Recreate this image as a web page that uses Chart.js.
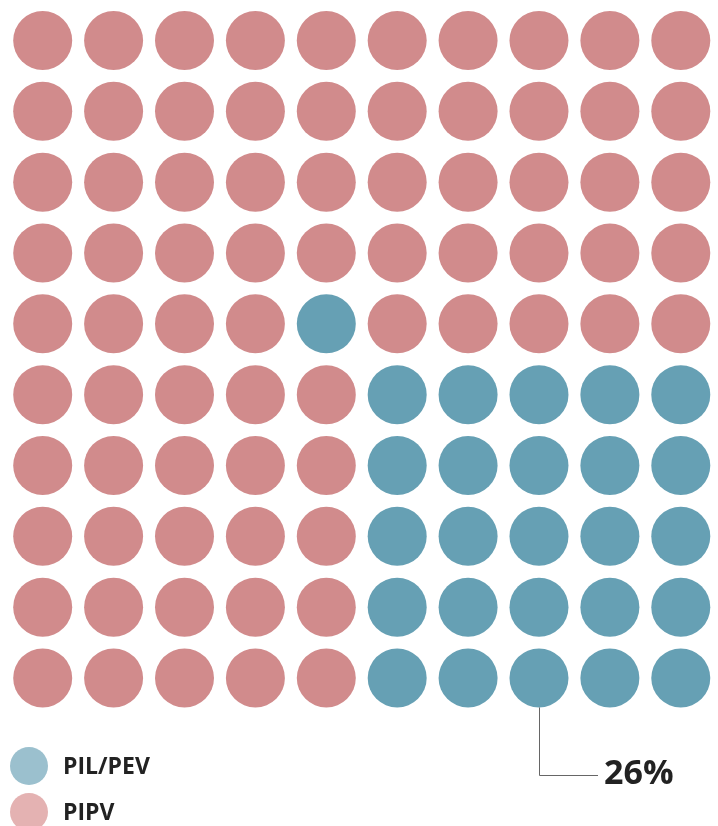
<!DOCTYPE html>
<html>
<head>
<meta charset="utf-8">
<script src="https://cdn.jsdelivr.net/npm/chart.js@4/dist/chart.umd.min.js"></script>
<style>
  html, body { margin: 0; padding: 0; background: #fff; }
  #wrap { width: 718px; height: 826px; }
</style>
</head>
<body>
<div id="wrap"><canvas id="waffle" width="718" height="826"></canvas></div>
<script>
// categories and their share of the 100 dots
var categories = ['PIL/PEV', 'PIPV'];
var shares = [26, 74];
// grid: b = PIL/PEV, p = PIPV (row 1 at top)
var gridRows = [
  'pppppppppp',
  'pppppppppp',
  'pppppppppp',
  'pppppppppp',
  'ppppbppppp',
  'pppppbbbbb',
  'pppppbbbbb',
  'pppppbbbbb',
  'pppppbbbbb',
  'pppppbbbbb'
];
// dot the callout points at: [column, row]
var calloutDot = [8, 10];

var dotColors = ['#66a0b4', '#d18b8c'];
var legendColors = ['#9bc0ce', '#e4b2b2'];

var bluePoints = [];
var pinkPoints = [];
gridRows.forEach(function(row, r) {
  row.split('').forEach(function(ch, c) {
    var pt = { x: c + 1, y: r + 1 };
    if (ch === 'b') bluePoints.push(pt); else pinkPoints.push(pt);
  });
});

var R = 29.5;

var extras = {
  id: 'extras',
  afterDraw: function(chart) {
    var ctx = chart.ctx;
    var xs = chart.scales.x, ys = chart.scales.y;
    ctx.save();

    // callout
    var lx = Math.round(xs.getPixelForValue(calloutDot[0])) + 0.5;
    var ly = ys.getPixelForValue(calloutDot[1]) + R;
    ctx.strokeStyle = '#666';
    ctx.lineWidth = 1;
    ctx.beginPath();
    ctx.moveTo(lx, ly);
    ctx.lineTo(lx, 775.5);
    ctx.lineTo(598, 775.5);
    ctx.stroke();
    ctx.fillStyle = '#222';
    ctx.font = 'bold 34px "Open Sans"';
    ctx.textBaseline = 'alphabetic';
    ctx.fillText(shares[0] + '%', 604, 784);

    // legend
    categories.forEach(function(name, i) {
      var cy = 766 + i * 46;
      ctx.fillStyle = legendColors[i];
      ctx.beginPath();
      ctx.arc(29, cy, 19, 0, Math.PI * 2);
      ctx.fill();
      ctx.fillStyle = '#222';
      ctx.font = 'bold 23px "Open Sans"';
      ctx.textBaseline = 'middle';
      ctx.fillText(name, 63, cy + 1);
    });
    ctx.restore();
  }
};

new Chart(document.getElementById('waffle').getContext('2d'), {
  type: 'scatter',
  data: {
    datasets: [
      {
        label: categories[1],
        data: pinkPoints,
        backgroundColor: dotColors[1],
        borderWidth: 0,
        pointRadius: R,
        pointHoverRadius: R
      },
      {
        label: categories[0],
        data: bluePoints,
        backgroundColor: dotColors[0],
        borderWidth: 0,
        pointRadius: R,
        pointHoverRadius: R
      }
    ]
  },
  options: {
    responsive: false,
    animation: false,
    events: [],
    layout: { padding: 0, autoPadding: false },
    scales: {
      x: { type: 'linear', display: false, min: 0.3977, max: 10.525 },
      y: { type: 'linear', display: false, reverse: true, min: 0.4282, max: 12.09 }
    },
    plugins: {
      legend: { display: false },
      tooltip: { enabled: false }
    }
  },
  plugins: [extras]
});
</script>
</body>
</html>
